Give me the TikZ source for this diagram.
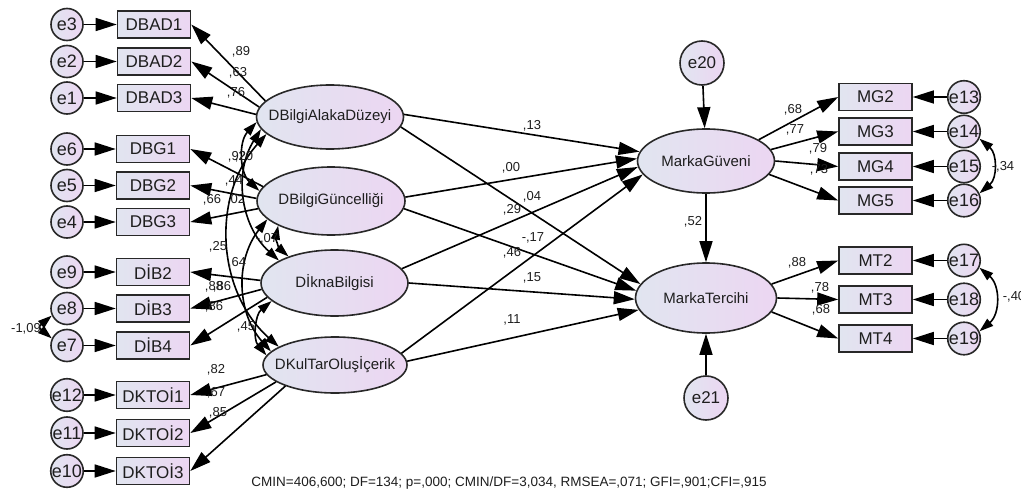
\documentclass[tikz,border=0pt]{standalone}
\usepackage{fontspec}
\setmainfont{Liberation Sans}
\usetikzlibrary{arrows.meta,shapes.geometric}
\definecolor{fillL}{RGB}{225,229,240}
\definecolor{fillR}{RGB}{236,214,242}
\definecolor{edge}{RGB}{40,40,40}
\definecolor{txt}{RGB}{30,30,30}
\newcommand\ctext[1]{\makebox[0pt]{#1}}
\begin{document}
\begin{tikzpicture}[x=1pt,y=1pt,
  fs/.style={font=\fontsize{#1}{#1}\selectfont},
  obs/.style={rectangle,draw=edge,line width=1.6pt,left color=fillL,right color=fillR,minimum width=73pt,minimum height=27pt,inner sep=0pt,fs=17,text=txt},
  err/.style={circle,draw=edge,line width=1.6pt,left color=fillL,right color=fillR,minimum size=32pt,inner sep=0pt,fs=18,text=txt},
  bigerr/.style={err,minimum size=44pt,fs=17},
  lat/.style={ellipse,draw=edge,line width=1.6pt,left color=fillL,right color=fillR,inner sep=0pt,fs=15,text=txt},
  lbl/.style={inner sep=0pt,fs=13,text=txt},
  arr/.style={draw=black,line width=1.6pt,-{Triangle[length=21pt,width=13pt]}},
  cov/.style={draw=black,line width=1.6pt,{Triangle[length=14pt,width=9pt]}-{Triangle[length=14pt,width=9pt]}},
]
\useasboundingbox (0,0) rectangle (1021,-495);
\fill[white] (0,0) rectangle (1021,-495);

% observed, left
\node[obs] (DBAD1) at (154,-24.5) {DBAD1};
\node[obs] (DBAD2) at (154,-61.5) {DBAD2};
\node[obs] (DBAD3) at (154,-98) {DBAD3};
\node[obs] (DBG1) at (153,-149) {DBG1};
\node[obs] (DBG2) at (153,-185.5) {DBG2};
\node[obs] (DBG3) at (153,-222) {DBG3};
\node[obs] (DIB2) at (153,-272) {DİB2};
\node[obs] (DIB3) at (153,-308.5) {DİB3};
\node[obs] (DIB4) at (153,-345.5) {DİB4};
\node[obs] (DKTOI1) at (153,-395) {DKTOİ1};
\node[obs] (DKTOI2) at (153,-433) {DKTOİ2};
\node[obs] (DKTOI3) at (153,-471) {DKTOİ3};

% errors, left
\node[err] (e3) at (67,-24.5) {e3};
\node[err] (e2) at (67,-61.5) {e2};
\node[err] (e1) at (67,-98) {e1};
\node[err] (e6) at (67,-149) {e6};
\node[err] (e5) at (67,-185.5) {e5};
\node[err] (e4) at (67,-222) {e4};
\node[err] (e9) at (67,-272) {e9};
\node[err] (e8) at (67,-308.5) {e8};
\node[err] (e7) at (67,-345.5) {e7};
\node[err] (e12) at (67,-395) {e12};
\node[err] (e11) at (67,-433) {e11};
\node[err] (e10) at (67,-471) {e10};

% latents
\node[lat,minimum width=147pt,minimum height=64pt] (L1) at (330,-117) {\ctext{DBilgiAlakaDüzeyi}};
\node[lat,minimum width=148pt,minimum height=68pt] (L2) at (331,-201) {\ctext{DBilgiGüncelliği}};
\node[lat,minimum width=147pt,minimum height=66pt] (L3) at (334.5,-283) {\ctext{DİknaBilgisi}};
\node[lat,minimum width=144pt,minimum height=56pt] (L4) at (335,-365) {\ctext{DKulTarOluşİçerik}};
\node[lat,minimum width=137pt,minimum height=64pt] (MG) at (706,-161) {\ctext{MarkaGüveni}};
\node[lat,minimum width=141pt,minimum height=70pt] (MT) at (706,-298) {\ctext{MarkaTercihi}};
\node[bigerr] (e20) at (702,-63) {e20};
\node[bigerr] (e21) at (706,-398) {e21};

% observed, right
\node[obs] (MG2) at (875.5,-97) {MG2};
\node[obs] (MG3) at (875.5,-131.5) {MG3};
\node[obs] (MG4) at (875.5,-166.5) {MG4};
\node[obs] (MG5) at (875.5,-200.5) {MG5};
\node[obs] (MT2) at (875.5,-260.5) {MT2};
\node[obs] (MT3) at (875.5,-299.5) {MT3};
\node[obs] (MT4) at (875.5,-338.5) {MT4};
\node[err] (e13) at (964,-97) {e13};
\node[err] (e14) at (964,-131.5) {e14};
\node[err] (e15) at (964,-166.5) {e15};
\node[err] (e16) at (964,-200.5) {e16};
\node[err] (e17) at (964,-260.5) {e17};
\node[err] (e18) at (964,-299.5) {e18};
\node[err] (e19) at (964,-338.5) {e19};

% error arrows
\foreach \e/\b in {e3/DBAD1,e2/DBAD2,e1/DBAD3,e6/DBG1,e5/DBG2,e4/DBG3,e9/DIB2,e8/DIB3,e7/DIB4,e12/DKTOI1,e11/DKTOI2,e10/DKTOI3,e13/MG2,e14/MG3,e15/MG4,e16/MG5,e17/MT2,e18/MT3,e19/MT4}
  \draw[arr] (\e) -- (\b);

% loadings
\draw[arr] (L1.166) -- (DBAD1.east);
\draw[arr] (L1.172) -- (DBAD2.east);
\draw[arr] (L1.178) -- (DBAD3.east);
\draw[arr] (L2.168) -- (DBG1.east);
\draw[arr] (L2.178) -- (DBG2.east);
\draw[arr] (L2.186) -- (DBG3.east);
\draw[arr] (L3.178) -- (DIB2.east);
\draw[arr] (L3.185) -- (DIB3.east);
\draw[arr] (L3.192) -- (DIB4.east);
\draw[arr] (L4.188) -- (DKTOI1.east);
\draw[arr] (L4.196) -- (DKTOI2.east);
\draw[arr] (L4.203) -- (DKTOI3.east);

% covariances
\draw[cov] (L1.184) to[bend right=45] (L2.172);
\draw[cov] (L1.190) to[bend right=40] (L3.158);
\draw[cov] (L1.195) to[bend right=45] (L4.162);
\draw[cov] (L2.205) to[bend right=30] (L3.150);
\draw[cov] (L2.196) to[bend right=40] (L4.168);
\draw[cov] (L3.196) to[bend right=45] (L4.172);
\draw[cov] (e8.205) to[out=220,in=140,looseness=1.9] (e7.155);
\draw[cov] (e14.-25) to[out=-40,in=40,looseness=1.1] (e16.25);
\draw[cov] (e17.-25) to[out=-40,in=40,looseness=1.1] (e19.25);

% structural
\draw[arr] (L1.2) -- (MG.172);
\draw[arr] (L1.-8) -- (MT.168);
\draw[arr] (L2.3) -- (MG.178);
\draw[arr] (L2.-6) -- (MT.174);
\draw[arr] (L3.12) -- (MG.185);
\draw[arr] (L3.0) -- (MT.181);
\draw[arr] (L4.10) -- (MG.192);
\draw[arr] (L4.3) -- (MT.190);
\draw[arr] (e20) -- (MG);
\draw[arr] (MG) -- (MT);
\draw[arr] (e21) -- (MT);
\draw[arr] (MG.22) -- (MG2.west);
\draw[arr] (MG.10) -- (MG3.west);
\draw[arr] (MG.0) -- (MG4.west);
\draw[arr] (MG.-12) -- (MG5.west);
\draw[arr] (MT.12) -- (MT2.west);
\draw[arr] (MT.0) -- (MT3.west);
\draw[arr] (MT.-12) -- (MT4.west);

% labels
\node[lbl] (t1) at (241,-52) {,89};
\node[lbl] (t2) at (238,-73) {,63};
\node[lbl] (t3) at (236,-93) {,76};
\node[lbl] (t4) at (237,-157) {,92};
\node[lbl] (t5) at (244,-157) {,20};
\node[lbl] (t6) at (234,-181) {,44};
\node[lbl] (t7) at (212,-200) {,66};
\node[lbl] (t8) at (236,-200) {,02};
\node[lbl] (t9) at (218,-247) {,25};
\node[lbl] (t10) at (267,-239) {-,07};
\node[lbl] (t11) at (237,-263) {,64};
\node[lbl] (t12) at (214,-287) {,88};
\node[lbl] (t13) at (222,-287) {,86};
\node[lbl] (t14) at (214,-307) {,86};
\node[lbl] (t15) at (246,-327) {,45};
\node[lbl] (t16) at (216,-370) {,82};
\node[lbl] (t17) at (216,-393) {,67};
\node[lbl] (t18) at (218,-413) {,85};
\node[lbl] (t19) at (26,-329) {-1,09};
\node[lbl] (t20) at (532,-126) {,13};
\node[lbl] (t21) at (511,-168) {,00};
\node[lbl] (t22) at (532,-197) {,04};
\node[lbl] (t23) at (512,-210) {,29};
\node[lbl] (t24) at (533,-238) {-,17};
\node[lbl] (t25) at (512,-253) {,46};
\node[lbl] (t26) at (532,-278) {,15};
\node[lbl] (t27) at (512,-320) {,11};
\node[lbl] (t28) at (693,-222) {,52};
\node[lbl] (t29) at (793,-110) {,68};
\node[lbl] (t30) at (795,-130) {,77};
\node[lbl] (t31) at (818,-149) {,79};
\node[lbl] (t32) at (819,-170) {,73};
\node[lbl] (t33) at (797,-263) {,88};
\node[lbl] (t34) at (820,-288) {,78};
\node[lbl] (t35) at (821,-310) {,68};
\node[lbl] (t36) at (1003,-167) {-,34};
\node[lbl] (t37) at (1014,-297) {-,40};
\node[lbl,fs=13.5] (fit) at (509,-483) {CMIN=406,600; DF=134; p=,000; CMIN/DF=3,034, RMSEA=,071; GFI=,901;CFI=,915};
\end{tikzpicture}
\end{document}
